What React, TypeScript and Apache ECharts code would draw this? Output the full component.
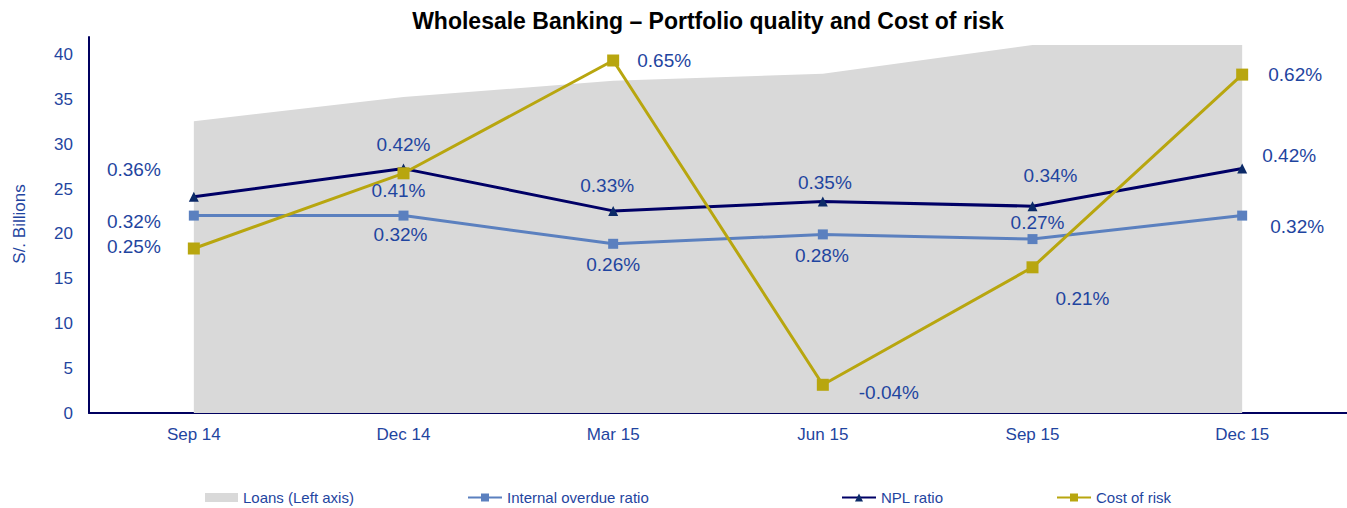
import React, { useEffect, useRef } from 'react';
import * as echarts from 'echarts';

const categories = ['Sep 14', 'Dec 14', 'Mar 15', 'Jun 15', 'Sep 15', 'Dec 15'];
const loans = [32.6, 35.3, 37.1, 37.9, 41.1, 41.1];
const internalOverdue = [0.32, 0.32, 0.26, 0.28, 0.27, 0.32];
const nplRatio = [0.36, 0.42, 0.33, 0.35, 0.34, 0.42];
const costOfRisk = [0.25, 0.41, 0.65, -0.04, 0.21, 0.62];

const seriesNames = ['Loans (Left axis)', 'Internal overdue ratio', 'NPL ratio', 'Cost of risk'];

// label offsets (styling): text centre relative to point
const internalOffsets = [[-60, 6], [-3, 19], [0, 21], [-1, 21], [5, -17], [55, 11]];
const nplOffsets = [[-60, -27], [0, -24], [-6, -25], [2, -19], [18, -31], [47, -13]];
const costOffsets = [[-60, -2], [-5, 17], [51, 0], [66, 8], [50, 31], [53, 0]];

const FONT = "'Liberation Sans', Arial, Helvetica, sans-serif";
const BLUE = '#1f45a0';
const NAVY = '#00005f';

function withLabels(values: number[], offsets: number[][]) {
  return values.map((v, i) => ({
    value: v,
    label: {
      show: true,
      position: 'inside',
      offset: offsets[i],
      align: 'center',
      verticalAlign: 'middle',
      formatter: (p: any) => p.value.toFixed(2) + '%',
      color: BLUE,
      fontSize: 19,
      fontFamily: FONT,
    },
  }));
}

export default function App() {
  const ref = useRef<HTMLDivElement>(null);
  useEffect(() => {
    const chart = echarts.init(ref.current!, null, { renderer: 'svg' });
    const legendBase = {
      top: 485,
      itemWidth: 34,
      itemHeight: 10,
      textStyle: { color: BLUE, fontSize: 15, fontFamily: FONT },
      selectedMode: false,
    };
    chart.setOption({
      animation: false,
      title: {
        text: 'Wholesale Banking – Portfolio quality and Cost of risk',
        left: 703,
        textAlign: 'center',
        top: 4,
        textStyle: { fontSize: 23, fontWeight: 'bold', color: '#000', fontFamily: FONT },
      },
      legend: [
        { ...legendBase, left: 200, data: [{ name: seriesNames[0], icon: 'rect', itemStyle: { color: '#d9d9d9' } }], itemHeight: 9, itemWidth: 33 },
        { ...legendBase, left: 462, data: [seriesNames[1]] },
        { ...legendBase, left: 836, data: [seriesNames[2]] },
        { ...legendBase, left: 1051, data: [seriesNames[3]] },
      ],
      grid: { left: 89, top: 37, right: 0, bottom: 95, containLabel: false },
      xAxis: {
        type: 'category',
        data: categories,
        boundaryGap: true,
        axisLine: { lineStyle: { color: NAVY, width: 2 } },
        axisTick: { show: false },
        axisLabel: { color: BLUE, fontSize: 17, fontFamily: FONT, margin: 13 },
      },
      yAxis: [
        {
          type: 'value',
          min: 0,
          max: 42,
          interval: 5,
          axisLine: { show: true, lineStyle: { color: NAVY, width: 2 } },
          axisTick: { show: false },
          splitLine: { show: false },
          axisLabel: { color: BLUE, fontSize: 17, fontFamily: FONT, margin: 16, showMaxLabel: false },
        },
        {
          type: 'value',
          min: -0.1,
          max: 0.7,
          show: false,
          splitLine: { show: false },
        },
      ],
      graphic: [
        {
          type: 'text',
          x: 19,
          y: 224,
          rotation: Math.PI / 2,
          style: {
            text: 'S/. Billions',
            fill: BLUE,
            fontSize: 17,
            fontFamily: FONT,
            textAlign: 'center',
            textVerticalAlign: 'middle',
          },
        },
      ],
      series: [
        {
          name: seriesNames[0],
          type: 'line',
          yAxisIndex: 0,
          data: loans,
          symbol: 'none',
          lineStyle: { width: 0, color: '#d9d9d9' },
          itemStyle: { color: '#d9d9d9' },
          areaStyle: { color: '#d9d9d9', opacity: 1 },
          z: 1,
        },
        {
          name: seriesNames[1],
          type: 'line',
          yAxisIndex: 1,
          data: withLabels(internalOverdue, internalOffsets),
          symbol: 'rect',
          symbolSize: 10,
          lineStyle: { width: 3, color: '#5b80bf' },
          itemStyle: { color: '#5b80bf' },
          z: 3,
        },
        {
          name: seriesNames[2],
          type: 'line',
          yAxisIndex: 1,
          data: withLabels(nplRatio, nplOffsets),
          symbol: 'triangle',
          symbolSize: 10,
          lineStyle: { width: 3, color: '#000066' },
          itemStyle: { color: '#0c2a68' },
          z: 4,
        },
        {
          name: seriesNames[3],
          type: 'line',
          yAxisIndex: 1,
          data: withLabels(costOfRisk, costOffsets),
          symbol: 'rect',
          symbolSize: 12,
          lineStyle: { width: 3, color: '#b8a60f' },
          itemStyle: { color: '#b8a60f' },
          z: 5,
        },
      ],
    });
    return () => chart.dispose();
  }, []);
  return (
    <div
      ref={ref}
      style={{ position: 'absolute', left: 0, top: 0, width: 1347, height: 508, background: '#fff' }}
    />
  );
}
